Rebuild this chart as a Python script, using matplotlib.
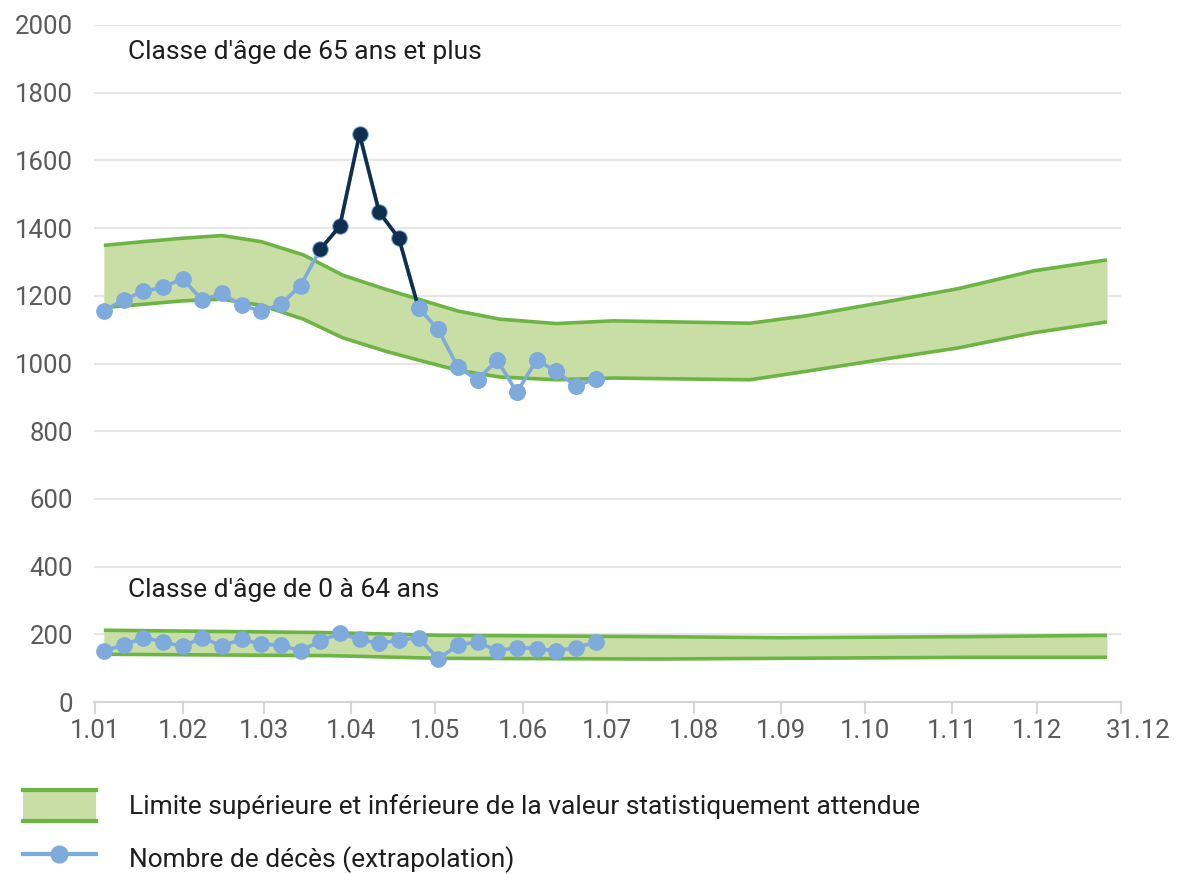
import numpy as np
import matplotlib
matplotlib.use("Agg")
import matplotlib.pyplot as plt
import matplotlib.transforms as mtransforms
from matplotlib.legend_handler import HandlerBase
from matplotlib.patches import Rectangle, Patch
from matplotlib.lines import Line2D

plt.rcParams['font.family'] = ['Roboto', 'DejaVu Sans']

# ---- data (day of year, 0 = 1 January) ----
week_days = [3, 10, 17, 24, 31, 38, 45, 52, 59, 66, 73, 80, 87,
             94, 101, 108, 115, 122, 129, 136, 143, 150, 157, 164, 171, 178]

deaths_65plus = [1155, 1188, 1213, 1225, 1251, 1187, 1207, 1172, 1155, 1175,
                 1230, 1337, 1406, 1677, 1447, 1370, 1164, 1101, 989, 952,
                 1010, 915, 1010, 977, 933, 955]
deaths_0_64 = [151, 168, 190, 178, 164, 190, 166, 185, 171, 168,
               151, 180, 203, 185, 173, 183, 190, 127, 168, 178,
               151, 161, 158, 151, 161, 176]

# weeks shown in dark (excess mortality)
excess_idx = [11, 12, 13, 14, 15, 16]

band_old_days = [3, 17, 31, 45, 59, 74, 88, 103, 115, 129, 144, 164, 184,
                 233, 253, 280, 307, 334, 360]
band_old_upper = [1349, 1360, 1370, 1378, 1360, 1321, 1261, 1220, 1190, 1155,
                  1131, 1118, 1126, 1119, 1141, 1180, 1221, 1274, 1306]
band_old_lower = [1165, 1175, 1185, 1190, 1172, 1131, 1076, 1037, 1010, 980,
                  960, 952, 957, 952, 977, 1012, 1046, 1091, 1123]

band_young_days = [3, 83, 123, 200, 244, 310, 360]
band_young_upper = [212, 205, 197, 193, 190, 193, 197]
band_young_lower = [141, 137, 129, 127, 129, 132, 132]

tick_days = [0, 31, 60, 91, 121, 152, 182, 213, 244, 274, 305, 335, 365]
tick_labels = ["1.01", "1.02", "1.03", "1.04", "1.05", "1.06", "1.07",
               "1.08", "1.09", "1.10", "1.11", "1.12", "31.12"]

# ---- styles ----
FILL = "#c9dea5"
EDGE = "#6cb545"
BLUE = "#7eaadc"
DARK = "#0f2f4f"
GRID = "#e6e6e6"
TXT = "#5a5a5a"

fig = plt.figure(figsize=(11.77, 8.74), dpi=100)
ax = fig.add_axes([94/1177, 1-702/874, (1121-94)/1177, 677/874])

for d, up, lo in [(band_old_days, band_old_upper, band_old_lower),
                  (band_young_days, band_young_upper, band_young_lower)]:
    ax.fill_between(d, lo, up, color=FILL, lw=0, zorder=1)
    ax.plot(d, up, color=EDGE, lw=2.6, zorder=2, solid_capstyle='butt')
    ax.plot(d, lo, color=EDGE, lw=2.6, zorder=2, solid_capstyle='butt')

x = np.array(week_days)
for series in (deaths_65plus, deaths_0_64):
    y = np.array(series, dtype=float)
    ax.plot(x, y, color=BLUE, lw=2.6, marker='o', ms=11, mec=BLUE, zorder=3)

# dark segment of the 65+ series
y_old = np.array(deaths_65plus, dtype=float)
ax.plot(x[excess_idx], y_old[excess_idx], color=DARK, lw=2.6, marker='o',
        ms=9.5, markevery=slice(0, 5), zorder=4)
after = x > x[excess_idx[-1] - 1]
ax.plot(x[after], y_old[after], ls='none', marker='o', ms=11, color=BLUE, zorder=5)

ax.text(11.7, 1920, "Classe d'âge de 65 ans et plus", fontsize=19,
        color="#1e1e1e", va='center', ha='left')
ax.text(11.7, 331, "Classe d'âge de 0 à 64 ans", fontsize=19,
        color="#1e1e1e", va='center', ha='left')

ax.set_xlim(-0.5, 365)
ax.set_ylim(0, 2000)
ax.set_yticks(np.arange(0, 2001, 200))
ax.set_xticks(tick_days)
ax.set_xticklabels(tick_labels)
ax.grid(axis='y', color=GRID, lw=1.5, zorder=0)
ax.set_axisbelow(True)
for s in ['top', 'right', 'left']:
    ax.spines[s].set_visible(False)
ax.spines['bottom'].set_color("#d6d6d6")
ax.spines['bottom'].set_linewidth(1.5)
ax.tick_params(axis='y', length=0, pad=15, labelsize=18.5, labelcolor=TXT)
ax.tick_params(axis='x', length=8.5, width=1.5, color="#d6d6d6", pad=4,
               labelsize=18.5, labelcolor=TXT)
last = ax.get_xticklabels()[-1]
last.set_transform(last.get_transform() +
                   mtransforms.ScaledTranslation(17/100, 0, fig.dpi_scale_trans))


class BandHandler(HandlerBase):
    def create_artists(self, legend, orig_handle, xdescent, ydescent,
                       width, height, fontsize, trans):
        x0, y0 = -xdescent, -ydescent
        rect = Rectangle((x0, y0), width, height, facecolor=FILL,
                         edgecolor='none', transform=trans)
        top = Line2D([x0, x0 + width], [y0 + height, y0 + height],
                     color=EDGE, lw=3, transform=trans)
        bot = Line2D([x0, x0 + width], [y0, y0], color=EDGE, lw=3,
                     transform=trans)
        return [rect, top, bot]


band_handle = Patch(facecolor=FILL)
line_handle = Line2D([], [], color=BLUE, lw=3, marker='o', ms=12)
fig.legend([band_handle, line_handle],
           ["Limite supérieure et inférieure de la valeur statistiquement attendue",
            "Nombre de décès (extrapolation)"],
           handler_map={Patch: BandHandler()},
           loc='upper left', bbox_to_anchor=(23/1177, 1-790/874),
           frameon=False, fontsize=19, handlelength=2.75, handleheight=1.44,
           handletextpad=1.25, labelspacing=0.8, borderpad=0, borderaxespad=0,
           labelcolor="#1e1e1e")

fig.savefig("out.png", dpi=100)
